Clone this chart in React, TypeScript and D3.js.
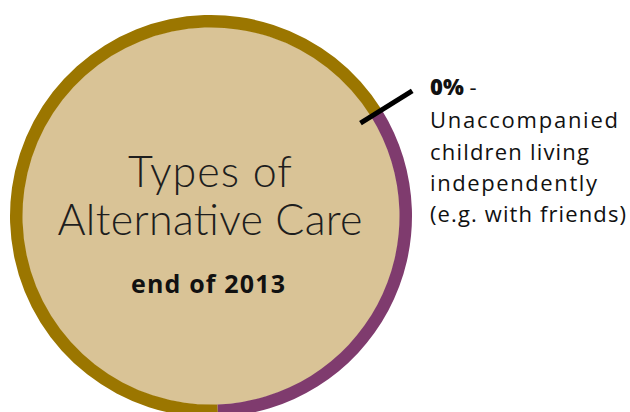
import React, { useEffect, useRef } from "react";
import * as d3 from "d3";

const categories = ["Other alternative care", "Unaccompanied children living independently (e.g. with friends)", "Foster / other care"];
const shares = [66.7, 0, 33.3];
const colors = ["#9b7600", "#000000", "#7f3b6e"];
const titleLines = ["Types of", "Alternative Care"];
const subtitle = "end of 2013";
const labelValue = "0%";
const labelLines = ["Unaccompanied", "children living", "independently", "(e.g. with friends)"];

const W = 630;
const H = 412;

export default function App() {
  const ref = useRef<SVGSVGElement | null>(null);

  useEffect(() => {
    const svg = d3.select(ref.current);
    svg.selectAll("*").remove();
    const cx = 211, cy = 216;
    const rOuter = 201, rInner = 188.5;
    const g = svg.append("g").attr("transform", `translate(${cx},${cy})`);

    g.append("circle").attr("r", rInner + 0.5).attr("fill", "#d9c396");

    const pie = d3.pie<number>().sort(null).value((d) => d)
      .startAngle((178 * Math.PI) / 180)
      .endAngle((178 * Math.PI) / 180 + 2 * Math.PI);
    const arcs = pie(shares);
    const arc = d3.arc<d3.PieArcDatum<number>>().innerRadius(rInner).outerRadius(rOuter);
    g.selectAll("path.slice").data(arcs).enter().append("path")
      .attr("class", "slice")
      .attr("d", arc as any)
      .attr("fill", (_, i) => colors[i]);

    // leader line for the 0% slice
    const a = arcs[1].startAngle;
    g.append("line")
      .attr("x1", 176 * Math.sin(a)).attr("y1", -176 * Math.cos(a))
      .attr("x2", 237 * Math.sin(a)).attr("y2", -237 * Math.cos(a))
      .attr("stroke", "#000").attr("stroke-width", 5);

    const title = svg.append("g").attr("font-family", "Lato, sans-serif").attr("font-weight", 300)
      .attr("fill", "#1e1e1e").attr("text-anchor", "middle");
    const titleY = [187, 235];
    const titleW = [164, 305];
    titleLines.forEach((t, i) => {
      title.append("text").attr("x", 210).attr("y", titleY[i]).attr("font-size", 43)
        .attr("textLength", titleW[i]).attr("lengthAdjust", "spacing").text(t);
    });
    svg.append("text").attr("x", 208).attr("y", 293).attr("text-anchor", "middle")
      .attr("font-family", "'Open Sans', sans-serif").attr("font-weight", 700).attr("font-size", 25)
      .attr("fill", "#111").attr("textLength", 154).attr("lengthAdjust", "spacing").text(subtitle);

    const lab = svg.append("g").attr("font-family", "'Open Sans', sans-serif").attr("fill", "#111");
    const t0 = lab.append("text").attr("x", 430).attr("y", 95).attr("font-size", 22);
    t0.append("tspan").attr("font-weight", 800).text(labelValue);
    t0.append("tspan").attr("font-weight", 400).text(" -");
    const ys = [128, 160, 191, 222];
    const ws = [188, 159, 167, 196];
    labelLines.forEach((t, i) => {
      lab.append("text").attr("x", 430).attr("y", ys[i]).attr("font-size", 22)
        .attr("textLength", ws[i]).attr("lengthAdjust", "spacing").text(t);
    });
  }, []);

  return (
    <svg ref={ref} width={W} height={H}
      style={{ position: "absolute", left: 0, top: 0, background: "#fff" }} />
  );
}
